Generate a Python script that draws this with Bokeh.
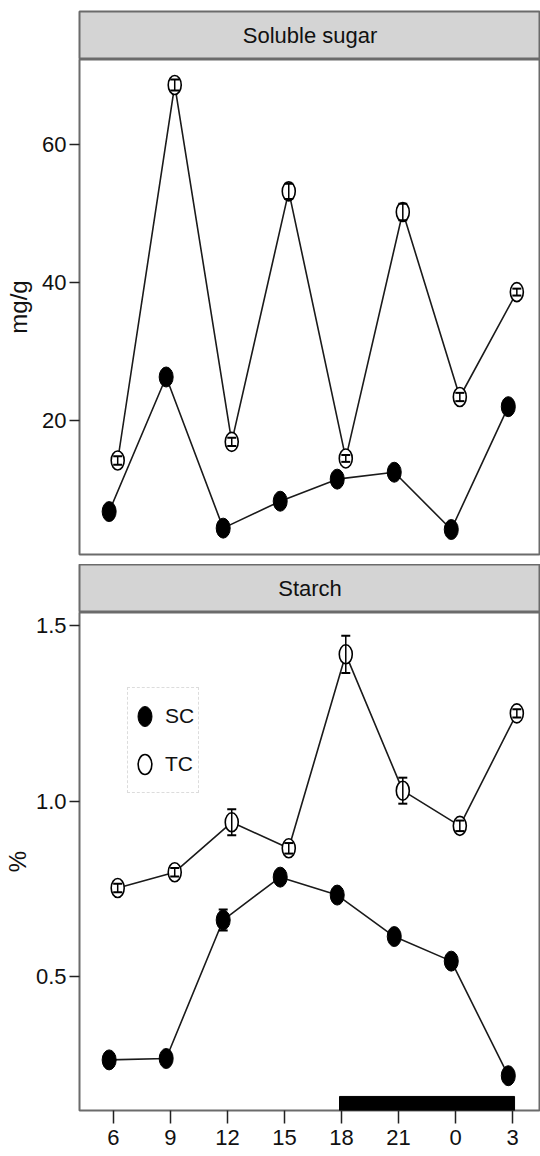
import numpy as np
from bokeh.plotting import figure
from bokeh.models import (ColumnDataSource, Range1d, FixedTicker, Whisker, TeeHead,
                          Legend, LegendItem, Label)
from bokeh.layouts import column
from bokeh.embed import file_html
from bokeh.resources import INLINE

# ---------------- data ----------------
hours = ["6", "9", "12", "15", "18", "21", "0", "3"]

sugar_sc = [6.8, 26.3, 4.4, 8.3, 11.5, 12.5, 4.2, 22.0]
sugar_sc_err = [0.3, 0.4, 0.3, 0.3, 0.3, 0.3, 0.3, 0.4]
sugar_tc = [14.2, 68.6, 16.9, 53.2, 14.5, 50.2, 23.4, 38.6]
sugar_tc_err = [0.6, 0.8, 0.6, 1.1, 0.5, 1.2, 0.6, 0.5]

starch_sc = [0.264, 0.268, 0.662, 0.784, 0.733, 0.615, 0.545, 0.219]
starch_sc_err = [0.010, 0.010, 0.030, 0.010, 0.010, 0.010, 0.010, 0.015]
starch_tc = [0.753, 0.798, 0.940, 0.866, 1.418, 1.030, 0.930, 1.250]
starch_tc_err = [0.012, 0.012, 0.037, 0.015, 0.053, 0.037, 0.015, 0.012]

dark_period = ("18", "3")

panel_titles = ["Soluble sugar", "Starch"]
y_titles = ["mg/g", "%"]
sugar_ticks = [20, 40, 60]
starch_ticks = [0.5, 1.0, 1.5]
starch_tick_labels = ["0.5", "1.0", "1.5"]

# ---------------- style ----------------
FONT = "Liberation Sans"
W = 540
LEFT = 78
X_START, X_END = -0.595, 7.49
DODGE = 0.075
FRAME_COLOR = "#6b6b6b"
STRIP_FILL = "#d4d4d4"
LINE_COLOR = "#1a1a1a"

idx = np.arange(len(hours))


def make_strip(title, top_border):
    s = figure(width=W, height=48 + top_border, min_border_left=LEFT, min_border_right=0,
               min_border_top=top_border, min_border_bottom=0,
               x_range=Range1d(X_START, X_END), y_range=Range1d(0, 1),
               x_axis_location=None, y_axis_location=None,
               output_backend="svg", toolbar_location=None)
    s.grid.visible = False
    s.background_fill_color = STRIP_FILL
    s.outline_line_color = FRAME_COLOR
    s.outline_line_width = 2
    s.add_layout(Label(x=(X_START + X_END) / 2, y=0.5, text=title,
                       text_align="center", text_baseline="middle",
                       text_font=FONT, text_font_size="22px", text_color="#111111"))
    return s


def style_y(p, ticks, title, label_standoff, overrides=None):
    ax = p.yaxis[0]
    ax.ticker = FixedTicker(ticks=ticks)
    if overrides:
        ax.major_label_overrides = overrides
    ax.axis_line_color = None
    ax.major_tick_in = 0
    ax.major_tick_out = 10
    ax.major_tick_line_width = 1.5
    ax.major_tick_line_color = "#222222"
    ax.minor_tick_line_color = None
    ax.major_label_standoff = 3
    ax.major_label_text_font = FONT
    ax.major_label_text_font_size = "22px"
    ax.major_label_text_color = "#111111"
    ax.axis_label = title
    ax.axis_label_standoff = label_standoff
    ax.axis_label_text_font = FONT
    ax.axis_label_text_font_size = "24px"
    ax.axis_label_text_font_style = "normal"
    ax.axis_label_text_color = "#111111"


def draw_series(p, sc, sc_err, tc, tc_err):
    src_sc = ColumnDataSource(dict(x=idx - DODGE, y=sc,
                                   lo=np.array(sc) - np.array(sc_err),
                                   hi=np.array(sc) + np.array(sc_err)))
    src_tc = ColumnDataSource(dict(x=idx + DODGE, y=tc,
                                   lo=np.array(tc) - np.array(tc_err),
                                   hi=np.array(tc) + np.array(tc_err)))
    p.line("x", "y", source=src_sc, line_color=LINE_COLOR, line_width=1.6)
    p.line("x", "y", source=src_tc, line_color=LINE_COLOR, line_width=1.6)
    r_sc = p.ellipse("x", "y", width=14, height=20, width_units="screen",
                     height_units="screen", source=src_sc,
                     fill_color="black", line_color="black", line_width=1)
    r_tc = p.ellipse("x", "y", width=13, height=19, width_units="screen",
                     height_units="screen", source=src_tc,
                     fill_color="white", line_color="black", line_width=1.6)
    for src in (src_sc, src_tc):
        p.add_layout(Whisker(base="x", lower="lo", upper="hi", source=src,
                             level="annotation", line_color="black", line_width=1.5,
                             upper_head=TeeHead(size=9, line_width=2, line_color="black"),
                             lower_head=TeeHead(size=9, line_width=2, line_color="black")))
    return r_sc, r_tc


def base_plot(height, bottom_border, y_range, x_axis):
    p = figure(width=W, height=height, min_border_left=LEFT, min_border_right=0,
               min_border_top=0, min_border_bottom=bottom_border,
               x_range=Range1d(X_START, X_END), y_range=y_range,
               x_axis_location="below" if x_axis else None,
               output_backend="svg", toolbar_location=None)
    p.grid.visible = False
    p.outline_line_color = FRAME_COLOR
    p.outline_line_width = 2
    p.background_fill_color = "white"
    return p


# ---------------- top panel: soluble sugar ----------------
strip1 = make_strip(panel_titles[0], 11)
p1 = base_plot(505, 10, Range1d(0.58, 72.3), False)
style_y(p1, sugar_ticks, y_titles[0], 7)
draw_series(p1, sugar_sc, sugar_sc_err, sugar_tc, sugar_tc_err)

# ---------------- bottom panel: starch ----------------
strip2 = make_strip(panel_titles[1], 0)
y2 = Range1d(0.12, 1.537)
p2 = base_plot(542, 44, y2, True)
style_y(p2, starch_ticks, y_titles[1], 2,
        overrides={t: l for t, l in zip(starch_ticks, starch_tick_labels)})
xa = p2.xaxis[0]
xa.ticker = FixedTicker(ticks=list(idx))
xa.major_label_overrides = {int(i): h for i, h in zip(idx, hours)}
xa.axis_line_color = None
xa.major_tick_in = 0
xa.major_tick_out = 13
xa.major_tick_line_width = 1.5
xa.major_tick_line_color = "#222222"
xa.minor_tick_line_color = None
xa.major_label_standoff = 6
xa.major_label_text_font = FONT
xa.major_label_text_font_size = "22px"
xa.major_label_text_color = "#111111"

# dark period bar
i0 = hours.index(dark_period[0])
i1 = hours.index(dark_period[1])
p2.quad(left=[i0 - 0.035], right=[i1 + 0.035], bottom=[y2.start], top=[y2.start + 0.04],
        fill_color="black", line_color="black")

r_sc, r_tc = draw_series(p2, starch_sc, starch_sc_err, starch_tc, starch_tc_err)

legend = Legend(items=[LegendItem(label="SC", renderers=[r_sc]),
                       LegendItem(label="TC", renderers=[r_tc])],
                location=(48, 317), orientation="vertical",
                glyph_width=25, glyph_height=48, padding=4, margin=0, spacing=0,
                label_standoff=8, label_text_font=FONT, label_text_font_size="21px",
                label_text_color="#111111", label_height=48,
                border_line_color="#bbbbbb", border_line_dash="dotted", border_line_width=1,
                background_fill_color="white", background_fill_alpha=1)
p2.add_layout(legend)

layout = column(strip1, p1, strip2, p2, spacing=0)
open("out.html", "w").write(file_html(layout, INLINE))
